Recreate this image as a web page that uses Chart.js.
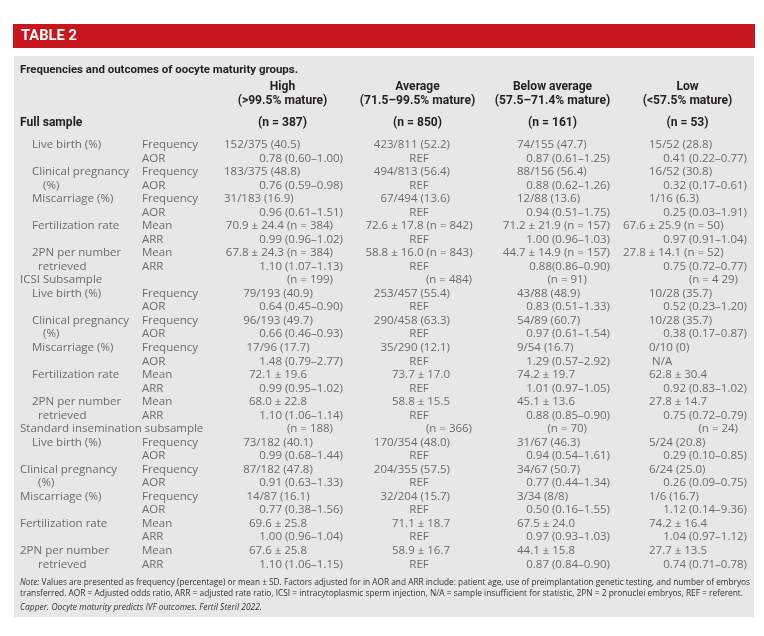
<!DOCTYPE html>
<html>
<head>
<meta charset="utf-8">
<script src="https://cdn.jsdelivr.net/npm/chart.js@4/dist/chart.umd.min.js"></script>
<style>
html,body{margin:0;padding:0;background:#fff;}
#wrap{width:764px;height:636px;position:relative;}
</style>
</head>
<body>
<div id="wrap"><canvas id="c" width="764" height="636"></canvas></div>
<script>
// ---------- texts / data ----------
const tableTitle = 'TABLE 2';
const caption = 'Frequencies and outcomes of oocyte maturity groups.';
const groups = ['High', 'Average', 'Below average', 'Low'];
const groupRanges = ['(>99.5% mature)', '(71.5–99.5% mature)', '(57.5–71.4% mature)', '(<57.5% mature)'];
const sections = ['Full sample', 'ICSI Subsample', 'Standard insemination subsample'];
const fullN = ['(n = 387)', '(n = 850)', '(n = 161)', '(n = 53)'];
const icsiN = ['(n = 199)', '(n = 484)', '(n = 91)', '(n = 4 29)'];
const stdN  = ['(n = 188)', '(n = 366)', '(n = 70)', '(n = 24)'];
const outcomes = ['Live birth (%)', 'Clinical pregnancy', 'Miscarriage (%)', 'Fertilization rate', '2PN per number'];
const outcomeCont = ['', '(%)', '', '', 'retrieved'];
const measures = ['Frequency', 'AOR', 'Frequency', 'AOR', 'Frequency', 'AOR', 'Mean', 'ARR', 'Mean', 'ARR'];

const fullHigh    = ['152/375 (40.5)', '0.78 (0.60–1.00)', '183/375 (48.8)', '0.76 (0.59–0.98)', '31/183 (16.9)', '0.96 (0.61–1.51)', '70.9 ± 24.4 (n = 384)', '0.99 (0.96–1.02)', '67.8 ± 24.3 (n = 384)', '1.10 (1.07–1.13)'];
const fullAverage = ['423/811 (52.2)', 'REF', '494/813 (56.4)', 'REF', '67/494 (13.6)', 'REF', '72.6 ± 17.8 (n = 842)', 'REF', '58.8 ± 16.0 (n = 843)', 'REF'];
const fullBelow   = ['74/155 (47.7)', '0.87 (0.61–1.25)', '88/156 (56.4)', '0.88 (0.62–1.26)', '12/88 (13.6)', '0.94 (0.51–1.75)', '71.2 ± 21.9 (n = 157)', '1.00 (0.96–1.03)', '44.7 ± 14.9 (n = 157)', '0.88(0.86–0.90)'];
const fullLow     = ['15/52 (28.8)', '0.41 (0.22–0.77)', '16/52 (30.8)', '0.32 (0.17–0.61)', '1/16 (6.3)', '0.25 (0.03–1.91)', '67.6 ± 25.9 (n = 50)', '0.97 (0.91–1.04)', '27.8 ± 14.1 (n = 52)', '0.75 (0.72–0.77)'];

const icsiHigh    = ['79/193 (40.9)', '0.64 (0.45–0.90)', '96/193 (49.7)', '0.66 (0.46–0.93)', '17/96 (17.7)', '1.48 (0.79–2.77)', '72.1 ± 19.6', '0.99 (0.95–1.02)', '68.0 ± 22.8', '1.10 (1.06–1.14)'];
const icsiAverage = ['253/457 (55.4)', 'REF', '290/458 (63.3)', 'REF', '35/290 (12.1)', 'REF', '73.7 ± 17.0', 'REF', '58.8 ± 15.5', 'REF'];
const icsiBelow   = ['43/88 (48.9)', '0.83 (0.51–1.33)', '54/89 (60.7)', '0.97 (0.61–1.54)', '9/54 (16.7)', '1.29 (0.57–2.92)', '74.2 ± 19.7', '1.01 (0.97–1.05)', '45.1 ± 13.6', '0.88 (0.85–0.90)'];
const icsiLow     = ['10/28 (35.7)', '0.52 (0.23–1.20)', '10/28 (35.7)', '0.38 (0.17–0.87)', '0/10 (0)', 'N/A', '62.8 ± 30.4', '0.92 (0.83–1.02)', '27.8 ± 14.7', '0.75 (0.72–0.79)'];

const stdHigh     = ['73/182 (40.1)', '0.99 (0.68–1.44)', '87/182 (47.8)', '0.91 (0.63–1.33)', '14/87 (16.1)', '0.77 (0.38–1.56)', '69.6 ± 25.8', '1.00 (0.96–1.04)', '67.6 ± 25.8', '1.10 (1.06–1.15)'];
const stdAverage  = ['170/354 (48.0)', 'REF', '204/355 (57.5)', 'REF', '32/204 (15.7)', 'REF', '71.1 ± 18.7', 'REF', '58.9 ± 16.7', 'REF'];
const stdBelow    = ['31/67 (46.3)', '0.94 (0.54–1.61)', '34/67 (50.7)', '0.77 (0.44–1.34)', '3/34 (8/8)', '0.50 (0.16–1.55)', '67.5 ± 24.0', '0.97 (0.93–1.03)', '44.1 ± 15.8', '0.87 (0.84–0.90)'];
const stdLow      = ['5/24 (20.8)', '0.29 (0.10–0.85)', '6/24 (25.0)', '0.26 (0.09–0.75)', '1/6 (16.7)', '1.12 (0.14–9.36)', '74.2 ± 16.4', '1.04 (0.97–1.12)', '27.7 ± 13.5', '0.74 (0.71–0.78)'];

const noteLine1 = 'Values are presented as frequency (percentage) or mean ± SD. Factors adjusted for in AOR and ARR include: patient age, use of preimplantation genetic testing, and number of embryos';
const noteLine2 = 'transferred. AOR = Adjusted odds ratio, ARR = adjusted rate ratio, ICSI = intracytoplasmic sperm injection, N/A = sample insufficient for statistic, 2PN = 2 pronuclei embryos, REF = referent.';
const sourceLine = 'Capper. Oocyte maturity predicts IVF outcomes. Fertil Steril 2022.';

// ---------- assemble ----------
const sectionNs = [fullN, icsiN, stdN];
const sectionCols = [
  [fullHigh, fullAverage, fullBelow, fullLow],
  [icsiHigh, icsiAverage, icsiBelow, icsiLow],
  [stdHigh, stdAverage, stdBelow, stdLow]
];
function headerRow(s) { return s === 0 ? -1.63 : s * 11 - 1; }
function dataRow(s, k) { return s * 11 + k; }

const datasets = groups.map((g, c) => {
  const pts = [];
  sections.forEach((sec, s) => {
    pts.push({ x: c, y: headerRow(s), text: sectionNs[s][c], kind: 'n', sec: s });
    sectionCols[s][c].forEach((t, k) => {
      pts.push({ x: c, y: dataRow(s, k), text: t, kind: (k % 2 === 0 ? 'val' : 'ratio'), sec: s });
    });
  });
  return { label: g, data: pts, pointRadius: 0, pointHoverRadius: 0, showLine: false };
});

// ---------- drawing helpers ----------
const BODY = '11.5px "Open Sans"';
const GRAY = '#6b6b6b';
const BOLD = 'bold 13px Roboto';
const BSX = 0.93;
const INK = '#231f20';
function txt(ctx, s, x, y, font, color, align, sx) {
  ctx.save();
  ctx.font = font; ctx.fillStyle = color; ctx.textAlign = align || 'left'; ctx.textBaseline = 'middle';
  ctx.translate(x, y); ctx.scale(sx || 1, 1); ctx.fillText(s, 0, 0);
  ctx.restore();
}
function fitTxt(ctx, s, x, y, font, color, width) {
  ctx.save(); ctx.font = font;
  const w = ctx.measureText(s).width;
  ctx.restore();
  txt(ctx, s, x, y, font, color, 'left', width / w);
}

function cellPlacement(c, kind, sec, text) {
  if (kind === 'n') {
    if (sec === 0) return { dx: 0, align: 'center', bold: true };
    return { dx: [50.5, 54.5, 34.5, 50.5][c], align: 'right' };
  }
  if (kind === 'ratio') {
    if (text === 'REF') return { dx: 1.5, align: 'center' };
    if (text === 'N/A') return { dx: -35.5, align: 'left' };
    return { dx: [60.5, 0, 57.5, 59.5][c], align: 'right' };
  }
  if (text.indexOf('(n =') >= 0) {
    return [{ dx: 50.5, align: 'right' }, { dx: 1.5, align: 'center' }, { dx: 57.5, align: 'right' }, { dx: -64.5, align: 'left' }][c];
  }
  if (c === 0) return sec === 0 ? { dx: -58.5, align: 'left' } : { dx: -4.5, align: 'center' };
  if (c === 1) return { dx: 32.5, align: 'right' };
  if (c === 2) return { dx: -35.5, align: 'left' };
  return { dx: -38.5, align: 'left' };
}

const tablePlugin = {
  id: 'tablePlugin',
  beforeDraw(chart) {
    const ctx = chart.ctx;
    ctx.save();
    ctx.fillStyle = '#ffffff'; ctx.fillRect(0, 0, chart.width, chart.height);
    ctx.fillStyle = '#c8161f'; ctx.fillRect(13, 24, 742, 24);
    ctx.fillStyle = '#e7e7e8'; ctx.fillRect(14, 56, 740, 561);
    ctx.restore();
  },
  afterDatasetsDraw(chart) {
    const ctx = chart.ctx;
    const xs = chart.scales.x, ys = chart.scales.y;
    txt(ctx, tableTitle, 21, 36, 'bold 15px Roboto', '#ffffff', 'left', 0.98);
    fitTxt(ctx, caption, 20, ys.getPixelForValue(-5.55), 'bold 11.5px Roboto', INK, 278);
    groups.forEach((g, c) => {
      const cx = xs.getPixelForValue(c);
      txt(ctx, g, cx, ys.getPixelForValue(-4.29), BOLD, INK, 'center', BSX);
      txt(ctx, groupRanges[c], cx, ys.getPixelForValue(-3.25), BOLD, INK, 'center', BSX);
    });
    // row labels
    sections.forEach((sec, s) => {
      const hy = ys.getPixelForValue(headerRow(s));
      if (s === 0) txt(ctx, sec, 20, hy, BOLD, INK, 'left', BSX);
      else txt(ctx, sec, 20, hy, BODY, GRAY, 'left');
      for (let k = 0; k < 10; k++) {
        const y = ys.getPixelForValue(dataRow(s, k));
        const i = Math.floor(k / 2);
        if (k % 2 === 0) {
          const lx = (s === 2 && i > 0) ? 20 : 32;
          txt(ctx, outcomes[i], lx, y, BODY, GRAY, 'left');
        } else if (outcomeCont[i]) {
          const base = (s === 2) ? 38 : (i === 1 ? 43 : 38);
          txt(ctx, outcomeCont[i], base, y, BODY, GRAY, 'left');
        }
        txt(ctx, measures[k], 142, y, BODY, GRAY, 'left');
      }
    });
    // cells from dataset elements
    chart.data.datasets.forEach((ds, c) => {
      const meta = chart.getDatasetMeta(c);
      meta.data.forEach((el, j) => {
        const p = ds.data[j];
        const pl = cellPlacement(c, p.kind, p.sec, p.text);
        if (pl.bold) txt(ctx, p.text, el.x + pl.dx, el.y, BOLD, INK, pl.align, BSX);
        else txt(ctx, p.text, el.x + pl.dx, el.y, BODY, GRAY, pl.align);
      });
    });
    // note
    ctx.save();
    ctx.font = 'italic 8.5px "Open Sans"';
    const nw = ctx.measureText('Note: ').width;
    ctx.font = '8.5px "Open Sans"';
    const rw = ctx.measureText(noteLine1).width;
    ctx.restore();
    const sc = 730 / (nw + rw);
    txt(ctx, 'Note: ', 20, 583, 'italic 8.5px "Open Sans"', '#333333', 'left', sc);
    txt(ctx, noteLine1, 20 + nw * sc, 583, '8.5px "Open Sans"', '#333333', 'left', sc);
    fitTxt(ctx, noteLine2, 20, 594, '8.5px "Open Sans"', '#333333', 723);
    fitTxt(ctx, sourceLine, 20, 608, 'italic 8.5px "Open Sans"', '#333333', 242);
  }
};

new Chart(document.getElementById('c'), {
  type: 'scatter',
  data: { datasets },
  options: {
    responsive: false,
    animation: false,
    devicePixelRatio: 1,
    events: [],
    layout: { padding: { left: 215, right: 9, top: 138, bottom: 65 } },
    scales: {
      x: { type: 'linear', min: -0.5, max: 3.5, display: false },
      y: { type: 'linear', min: -0.5, max: 31.5, reverse: true, display: false }
    },
    plugins: { legend: { display: false }, tooltip: { enabled: false } }
  },
  plugins: [tablePlugin]
});
</script>
</body>
</html>
